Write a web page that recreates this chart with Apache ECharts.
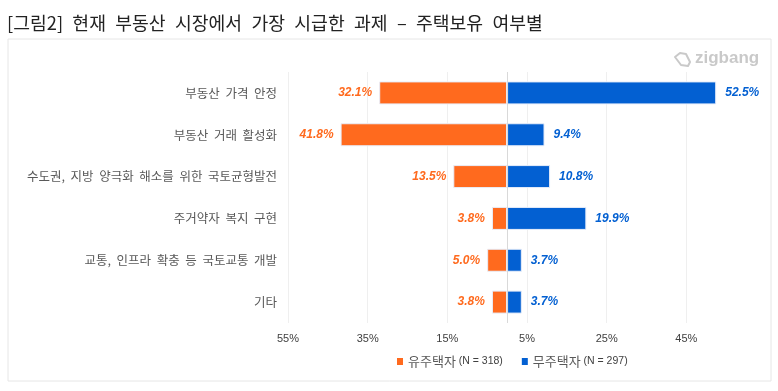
<!DOCTYPE html>
<html>
<head>
<meta charset="utf-8">
<script src="https://cdn.jsdelivr.net/npm/echarts@6/dist/echarts.min.js"></script>
<style>
  html, body { margin: 0; padding: 0; background: #fff; }
  #chart { width: 778px; height: 391px; }
</style>
</head>
<body>
<div id="chart"></div>
<script>
var fontKr = '"Noto Sans CJK KR", sans-serif';
var titleText = '[그림2]  \u200a현재  \u200a부동산  \u200a시장에서  \u200a가장  \u200a시급한  \u200a과제  \u200a–  \u200a주택보유  \u200a여부별';

var categories = [
  '부동산 가격 안정',
  '부동산 거래 활성화',
  '수도권, 지방 양극화 해소를 위한 국토균형발전',
  '주거약자 복지 구현',
  '교통, 인프라 확충 등 국토교통 개발',
  '기타'
];
var ownerValues = [-32.1, -41.8, -13.5, -3.8, -5.0, -3.8];
var nonOwnerValues = [52.5, 9.4, 10.8, 19.9, 3.7, 3.7];
var tickValues = [-55, -35, -15, 5, 25, 45];
var ownerName = '유주택자';
var nonOwnerName = '무주택자';
var sampleSizes = { '유주택자': '(N = 318)', '무주택자': '(N = 297)' };

var orange = '#ff6a1e';
var blue = '#0360d2';

function pct(v) {
  return Math.abs(v).toFixed(1) + '%';
}

function barSeries(name, data, color, pos, dist, zeroLine) {
  var s = {
    name: name,
    type: 'bar',
    data: data,
    stack: 'total',
    barWidth: 23,
    itemStyle: { color: color, borderColor: '#e8eefa', borderWidth: 1 },
    label: {
      show: true,
      position: pos,
      distance: dist,
      color: color,
      fontFamily: 'Liberation Sans',
      fontSize: 12,
      fontStyle: 'italic',
      fontWeight: 'bold',
      formatter: function (p) { return pct(p.value); }
    }
  };
  if (zeroLine) {
    s.markLine = {
      silent: true,
      symbol: 'none',
      label: { show: false },
      lineStyle: { color: '#d9d9d9', width: 1, type: 'solid' },
      data: [{ xAxis: 0 }]
    };
  }
  return s;
}

var option = {
  backgroundColor: '#fff',
  animation: false,
  title: {
    text: titleText,
    left: 7,
    top: 14,
    padding: 0,
    textStyle: { fontFamily: fontKr, fontSize: 18.25, fontWeight: 'normal', color: '#222' }
  },
  legend: {
    left: 392,
    top: 350,
    itemWidth: 6,
    itemHeight: 7,
    itemGap: 19,
    icon: 'rect',
    itemStyle: { borderWidth: 0 },
    data: [ownerName, nonOwnerName],
    formatter: function (name) {
      return name + ' {n|' + sampleSizes[name] + '}';
    },
    textStyle: {
      fontFamily: fontKr,
      fontSize: 13,
      color: '#595959',
      rich: { n: { fontFamily: 'Liberation Sans', fontSize: 10.5, color: '#404040' } }
    }
  },
  grid: { left: 288, top: 72, width: 478, height: 251 },
  xAxis: {
    type: 'value',
    min: -55,
    max: 65,
    axisLine: { show: false },
    axisTick: { show: false, customValues: tickValues },
    splitLine: { show: true, lineStyle: { color: '#efefef' } },
    axisLabel: {
      customValues: tickValues,
      margin: 10,
      color: '#404040',
      fontFamily: 'Liberation Sans',
      fontSize: 11,
      formatter: function (v) { return Math.abs(v) + '%'; }
    }
  },
  yAxis: {
    type: 'category',
    inverse: true,
    data: categories,
    axisLine: { show: false, onZero: false },
    axisTick: { show: false },
    axisLabel: {
      margin: 11,
      color: '#595959',
      fontFamily: fontKr,
      fontSize: 12.5,
      formatter: function (v) { return v.replace(/ /g, '  '); }
    }
  },
  graphic: [
    {
      type: 'rect',
      silent: true,
      z: -1,
      shape: { x: 8, y: 39, width: 763, height: 342 },
      style: { fill: '#fff', stroke: '#e6e6e6', lineWidth: 1 }
    },
    {
      type: 'text',
      silent: true,
      left: 695,
      top: 50,
      style: { text: 'zigbang', fontFamily: 'Liberation Sans', fontSize: 17, fontWeight: 'bold', fill: '#c9c9c9' }
    },
    {
      type: 'polygon',
      silent: true,
      shape: { points: [[675, 57], [680, 53], [686, 54], [690, 62], [688, 66], [681, 65]] },
      style: { fill: 'none', stroke: '#c9c9c9', lineWidth: 2, lineJoin: 'round' }
    }
  ],
  series: [
    barSeries(ownerName, ownerValues, orange, 'left', 7, true),
    barSeries(nonOwnerName, nonOwnerValues, blue, 'right', 9, false)
  ]
};

var myChart = echarts.init(document.getElementById('chart'));
myChart.setOption(option);
</script>
</body>
</html>
